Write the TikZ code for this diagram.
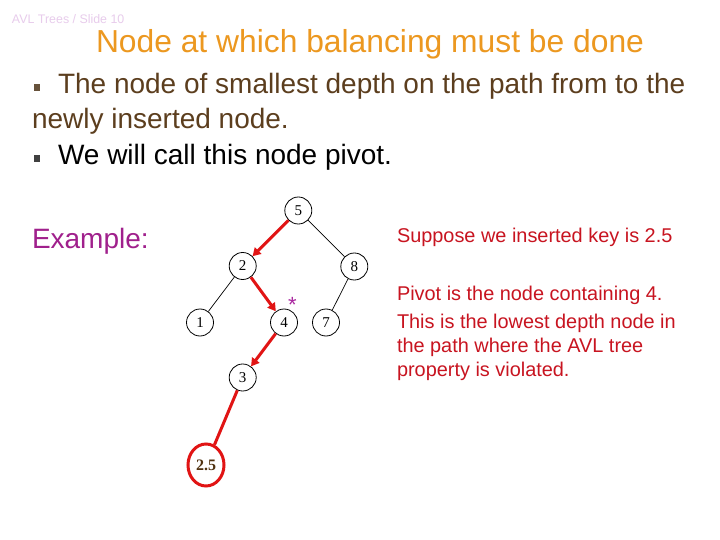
\documentclass[tikz,border=0pt]{standalone}
\usepackage{fontspec}
\setmainfont{Liberation Sans}
\newfontfamily\treefont{Liberation Serif}
\usetikzlibrary{arrows.meta,shapes.geometric}
\definecolor{titleorange}{RGB}{236,152,32}
\definecolor{slidepink}{RGB}{232,204,236}
\definecolor{bulletbrown}{RGB}{92,62,30}
\definecolor{examplepurple}{RGB}{160,32,140}
\definecolor{notered}{RGB}{200,20,32}
\definecolor{pathred}{RGB}{225,20,20}
\definecolor{starpurple}{RGB}{170,40,160}
\definecolor{keybrown}{RGB}{80,50,16}
\tikzset{
  txt/.style={anchor=base west, inner sep=0pt, outer sep=0pt},
  treenode/.style={circle, draw=black, line width=0.8pt, minimum size=27pt, inner sep=0pt, font=\treefont\fontsize{15}{15}\selectfont},
  newnode/.style={ellipse, draw=pathred, line width=3pt, minimum width=36pt, minimum height=42pt, inner sep=0pt, font=\treefont\bfseries\fontsize{16}{16}\selectfont, text=keybrown},
  treeedge/.style={draw=black, line width=0.7pt},
  pathedge/.style={draw=pathred, line width=3pt, -{Triangle[length=8pt,width=9pt]}},
  pathline/.style={draw=pathred, line width=3pt},
  bulletsq/.style={inner sep=0pt, minimum width=6pt, minimum height=7pt},
  bodytext/.style={txt, font=\fontsize{28}{28}\selectfont},
  notetext/.style={txt, text=notered, font=\fontsize{19.9}{19.9}\selectfont}
}
\begin{document}
\begin{tikzpicture}[x=1pt,y=-1pt]
\useasboundingbox[fill=white] (0,0) rectangle (720,540);
% header
\node[txt, text=slidepink, font=\fontsize{12.4}{12.4}\selectfont] (slide) at (12,24) {AVL Trees / Slide 10};
\node[txt, text=titleorange, font=\fontsize{31.8}{31.8}\selectfont] (title) at (96,53) {Node at which balancing must be done};
% bullets
\node[bulletsq, fill=bulletbrown!70!gray] (b1) at (36.5,87.5) {};
\node[bodytext, text=bulletbrown] (l1) at (58,94) {The node of smallest depth on the path from to the};
\node[bodytext, text=bulletbrown] (l2) at (32,129) {newly inserted node.};
\node[bulletsq, fill=black!75] (b2) at (36.5,158.5) {};
\node[bodytext, text=black] (l3) at (58,165) {We will call this node pivot.};
\node[bodytext, text=examplepurple] (ex) at (32,248) {Example:};
% notes
\node[notetext] (n1) at (397,242) {Suppose we inserted key is 2.5};
\node[notetext] (n2) at (397,300) {Pivot is the node containing 4.};
\node[notetext] (n3) at (397,328) {This is the lowest depth node in};
\node[notetext] (n4) at (397,352) {the path where the AVL tree};
\node[notetext] (n5) at (397,376) {property is violated.};
% tree
\node[treenode] (k5) at (298.3,210.5) {5};
\node[treenode] (k2) at (242.7,266) {2};
\node[treenode] (k8) at (354.3,266.5) {8};
\node[treenode] (k1) at (200,322.5) {1};
\node[treenode] (k4) at (284,322.5) {4};
\node[treenode] (k7) at (326,322.5) {7};
\node[treenode] (k3) at (242.7,377.5) {3};
\node[newnode] (k25) at (206,465) {2.5};
\node[text=starpurple, font=\fontsize{22}{22}\selectfont, inner sep=0pt] (star) at (292.3,305) {*};
\draw[treeedge] (k5) -- (k8);
\draw[treeedge] (k2) -- (k1);
\draw[treeedge] (k8) -- (k7);
\draw[pathedge] (k5) -- (k2);
\draw[pathedge] (k2) -- (k4);
\draw[pathedge] (k4) -- (k3);
\draw[pathline] (k3) -- (k25);
\end{tikzpicture}
\end{document}
